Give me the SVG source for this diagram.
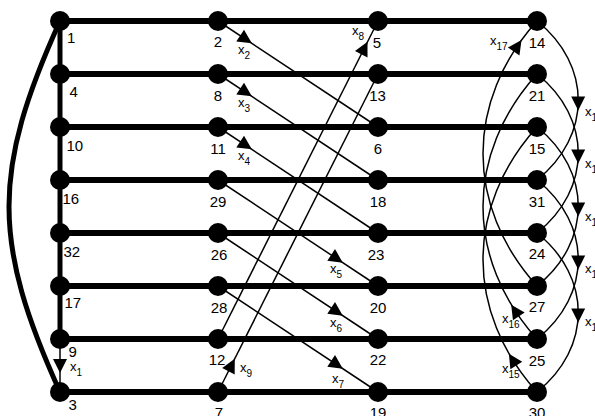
<svg xmlns="http://www.w3.org/2000/svg" xmlns:xlink="http://www.w3.org/1999/xlink" width="595" height="416" viewBox="0 0 595 416">
<style>
.thick{stroke:#000;stroke-width:6;fill:none}
.mid{stroke:#000;stroke-width:5;fill:none}
.thin{stroke:#000;stroke-width:1.5;fill:none}
.nd{fill:#000}
.lb{font-family:"Liberation Sans",Arial,sans-serif;font-size:15px;fill:#000}
.lc{text-anchor:middle}
.el{font-family:"Liberation Sans",Arial,sans-serif;font-size:13px;fill:#000}
.sub{font-size:10px}
</style>
<defs>
<path id="ah" d="M7,0 L-7,-7 L-7,7 Z" fill="#000"/>
</defs>
<rect width="595" height="416" fill="#fff"/>
<g id="connectors">
<line class="thick" x1="60" y1="21" x2="537" y2="21"/>
<line class="thick" x1="60" y1="74" x2="537" y2="74"/>
<line class="thick" x1="60" y1="127" x2="537" y2="127"/>
<line class="thick" x1="60" y1="180" x2="537" y2="180"/>
<line class="thick" x1="60" y1="233" x2="537" y2="233"/>
<line class="thick" x1="60" y1="286" x2="537" y2="286"/>
<line class="thick" x1="60" y1="339" x2="537" y2="339"/>
<line class="thick" x1="60" y1="392" x2="537" y2="392"/>
<line class="mid" x1="60" y1="21" x2="60" y2="339"/>
<path class="mid" d="M60,21 C-8,171 -8,242 60,392"/>
<line class="thin" x1="60" y1="339" x2="60" y2="392"/>
<use xlink:href="#ah" transform="translate(60,366) rotate(90)"/>
<line class="thin" x1="218" y1="21" x2="378" y2="127"/>
<line class="thin" x1="218" y1="74" x2="378" y2="180"/>
<line class="thin" x1="218" y1="127" x2="378" y2="233"/>
<line class="thin" x1="218" y1="180" x2="378" y2="286"/>
<line class="thin" x1="218" y1="233" x2="378" y2="339"/>
<line class="thin" x1="218" y1="286" x2="378" y2="392"/>
<line class="thin" x1="218" y1="339" x2="378" y2="21"/>
<line class="thin" x1="218" y1="392" x2="378" y2="74"/>
<use xlink:href="#ah" transform="translate(246,39.5) rotate(33.5)"/>
<use xlink:href="#ah" transform="translate(246,92.5) rotate(33.5)"/>
<use xlink:href="#ah" transform="translate(246,145.5) rotate(33.5)"/>
<use xlink:href="#ah" transform="translate(337,258.8) rotate(33.5)"/>
<use xlink:href="#ah" transform="translate(337,311.8) rotate(33.5)"/>
<use xlink:href="#ah" transform="translate(337,364.8) rotate(33.5)"/>
<use xlink:href="#ah" transform="translate(364.4,48) rotate(-63.3)"/>
<use xlink:href="#ah" transform="translate(231.6,365) rotate(-63.3)"/>
<path class="thin" d="M537,21 C592,65 592,136 537,180"/>
<path class="thin" d="M537,74 C592,118 592,189 537,233"/>
<path class="thin" d="M537,127 C592,171 592,242 537,286"/>
<path class="thin" d="M537,180 C592,224 592,295 537,339"/>
<path class="thin" d="M537,233 C592,277 592,348 537,392"/>
<use xlink:href="#ah" transform="translate(578.2,103.5) rotate(90)"/>
<use xlink:href="#ah" transform="translate(578.2,156.5) rotate(90)"/>
<use xlink:href="#ah" transform="translate(578.2,209.5) rotate(90)"/>
<use xlink:href="#ah" transform="translate(578.2,262.5) rotate(90)"/>
<use xlink:href="#ah" transform="translate(578.2,315.5) rotate(90)"/>
<path class="thin" d="M537,286 C465,206 465,101 537,21"/>
<path class="thin" d="M537,339 C465,259 465,154 537,74"/>
<path class="thin" d="M537,392 C465,312 465,207 537,127"/>
<use xlink:href="#ah" transform="translate(517.6,45.7) rotate(-55.7)"/>
<use xlink:href="#ah" transform="translate(515,310.5) rotate(-123)"/>
<use xlink:href="#ah" transform="translate(512.6,359.6) rotate(-122)"/>
<text class="el" x="70" y="371">x<tspan class="sub" dy="5">1</tspan></text>
<text class="el" x="238" y="53.5">x<tspan class="sub" dy="5">2</tspan></text>
<text class="el" x="238" y="106.7">x<tspan class="sub" dy="5">3</tspan></text>
<text class="el" x="238" y="160">x<tspan class="sub" dy="5">4</tspan></text>
<text class="el" x="330" y="273">x<tspan class="sub" dy="5">5</tspan></text>
<text class="el" x="330" y="327">x<tspan class="sub" dy="5">6</tspan></text>
<text class="el" x="332" y="382.5">x<tspan class="sub" dy="5">7</tspan></text>
<text class="el" x="352" y="35">x<tspan class="sub" dy="5">8</tspan></text>
<text class="el" x="240" y="371.5">x<tspan class="sub" dy="5">9</tspan></text>
<text class="el" x="585" y="116">x<tspan class="sub" dy="5">10</tspan></text>
<text class="el" x="585" y="168">x<tspan class="sub" dy="5">11</tspan></text>
<text class="el" x="585" y="221">x<tspan class="sub" dy="5">12</tspan></text>
<text class="el" x="585" y="273">x<tspan class="sub" dy="5">13</tspan></text>
<text class="el" x="585" y="326">x<tspan class="sub" dy="5">14</tspan></text>
<text class="el" x="502" y="373">x<tspan class="sub" dy="5">15</tspan></text>
<text class="el" x="502" y="323">x<tspan class="sub" dy="5">16</tspan></text>
<text class="el" x="490" y="45">x<tspan class="sub" dy="5">17</tspan></text>
</g>
<g id="n1"><circle class="nd" cx="60" cy="21" r="10"/><text class="lb" x="67" y="43">1</text></g>
<g id="n4"><circle class="nd" cx="60" cy="74" r="10"/><text class="lb" x="69.5" y="97">4</text></g>
<g id="n10"><circle class="nd" cx="60" cy="127" r="10"/><text class="lb" x="66.5" y="151">10</text></g>
<g id="n16"><circle class="nd" cx="60" cy="180" r="10"/><text class="lb" x="62.5" y="204">16</text></g>
<g id="n32"><circle class="nd" cx="60" cy="233" r="10"/><text class="lb" x="63.5" y="257">32</text></g>
<g id="n17"><circle class="nd" cx="60" cy="286" r="10"/><text class="lb" x="64.5" y="308">17</text></g>
<g id="n9"><circle class="nd" cx="60" cy="339" r="10"/><text class="lb" x="68.5" y="357">9</text></g>
<g id="n3"><circle class="nd" cx="60" cy="392" r="10"/><text class="lb" x="68.5" y="410">3</text></g>
<g id="n2"><circle class="nd" cx="218" cy="21" r="10"/><text class="lb lc" x="218" y="47">2</text></g>
<g id="n8"><circle class="nd" cx="218" cy="74" r="10"/><text class="lb lc" x="218" y="100.5">8</text></g>
<g id="n11"><circle class="nd" cx="218" cy="127" r="10"/><text class="lb lc" x="218" y="153.5">11</text></g>
<g id="n29"><circle class="nd" cx="218" cy="180" r="10"/><text class="lb lc" x="218" y="206.5">29</text></g>
<g id="n26"><circle class="nd" cx="218" cy="233" r="10"/><text class="lb lc" x="219" y="259.5">26</text></g>
<g id="n28"><circle class="nd" cx="218" cy="286" r="10"/><text class="lb lc" x="219" y="312.5">28</text></g>
<g id="n12"><circle class="nd" cx="218" cy="339" r="10"/><text class="lb lc" x="217" y="365">12</text></g>
<g id="n7"><circle class="nd" cx="218" cy="392" r="10"/><text class="lb lc" x="219" y="418">7</text></g>
<g id="n5"><circle class="nd" cx="378" cy="21" r="10"/><text class="lb lc" x="377" y="48">5</text></g>
<g id="n13"><circle class="nd" cx="378" cy="74" r="10"/><text class="lb lc" x="377.5" y="100.5">13</text></g>
<g id="n6"><circle class="nd" cx="378" cy="127" r="10"/><text class="lb lc" x="378" y="153.5">6</text></g>
<g id="n18"><circle class="nd" cx="378" cy="180" r="10"/><text class="lb lc" x="378" y="206.5">18</text></g>
<g id="n23"><circle class="nd" cx="378" cy="233" r="10"/><text class="lb lc" x="376" y="259.5">23</text></g>
<g id="n20"><circle class="nd" cx="378" cy="286" r="10"/><text class="lb lc" x="378" y="312.5">20</text></g>
<g id="n22"><circle class="nd" cx="378" cy="339" r="10"/><text class="lb lc" x="378" y="365">22</text></g>
<g id="n19"><circle class="nd" cx="378" cy="392" r="10"/><text class="lb lc" x="378" y="418">19</text></g>
<g id="n14"><circle class="nd" cx="537" cy="21" r="10"/><text class="lb lc" x="537" y="48">14</text></g>
<g id="n21"><circle class="nd" cx="537" cy="74" r="10"/><text class="lb lc" x="537" y="101">21</text></g>
<g id="n15"><circle class="nd" cx="537" cy="127" r="10"/><text class="lb lc" x="537" y="153.5">15</text></g>
<g id="n31"><circle class="nd" cx="537" cy="180" r="10"/><text class="lb lc" x="537" y="206.5">31</text></g>
<g id="n24"><circle class="nd" cx="537" cy="233" r="10"/><text class="lb lc" x="537" y="259">24</text></g>
<g id="n27"><circle class="nd" cx="537" cy="286" r="10"/><text class="lb lc" x="537" y="312">27</text></g>
<g id="n25"><circle class="nd" cx="537" cy="339" r="10"/><text class="lb lc" x="537" y="366">25</text></g>
<g id="n30"><circle class="nd" cx="537" cy="392" r="10"/><text class="lb lc" x="537" y="418">30</text></g>
</svg>
